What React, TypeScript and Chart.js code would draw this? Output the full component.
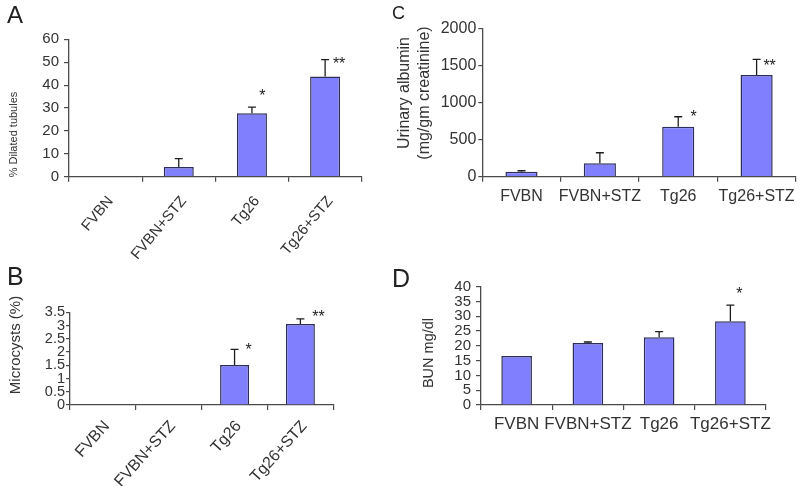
import React, { useEffect, useRef } from "react";
import { Chart, registerables } from "chart.js";

Chart.register(...registerables);

const FONT = "'Liberation Sans', Arial, Helvetica, sans-serif";
const AXIS = "#4a4a4a";
const TXT = "#333333";
const BAR_FILL = "#8080ff";
const BAR_EDGE = "#2e2e5c";

const categories = ["FVBN", "FVBN+STZ", "Tg26", "Tg26+STZ"];

// A: % dilated tubules
const dilatedTubules = [0, 4.2, 27.7, 43.8];
const dilatedTubulesErr = [0, 3.7, 2.7, 7.3];
const dilatedTubulesSig = ["", "", "*", "**"];

// B: microcysts (%)
const microcysts = [0, 0, 1.51, 3.06];
const microcystsErr = [0, 0, 0.59, 0.19];
const microcystsSig = ["", "", "*", "**"];

// C: urinary albumin (mg/gm creatinine)
const albumin = [67, 180, 674, 1370];
const albuminErr = [13, 143, 134, 212];
const albuminSig = ["", "", "*", "**"];

// D: BUN mg/dl
const bun = [16.6, 21.0, 22.9, 28.3];
const bunErr = [0, 0.3, 1.9, 5.5];
const bunSig = ["", "", "", "*"];

type Panel = {
  left: number; top: number; width: number; height: number;
  yWidth: number; padTop: number; padRight: number; xHeight: number;
  values: number[]; errors: number[]; sig: string[];
  starDx: number[]; starDy: number[]; starFont: number;
  yMax: number; yStep: number; yFont: number; yPad: number; tickLen: number;
  xFont: number; xRotation: number; xPad: number; xLabelOffset: number;
  titleLines: string[]; titleFont: number; titleX: number[]; titleY: number;
  letter: string; letterX: number; letterY: number; letterFont: number;
  barPct: number;
};

const panels: Panel[] = [
  {
    left: 0, top: 0, width: 390, height: 260,
    yWidth: 69, padTop: 39.3, padRight: 28.3, xHeight: 83.3,
    values: dilatedTubules, errors: dilatedTubulesErr, sig: dilatedTubulesSig,
    starDx: [0, 0, 10.5, 14], starDy: [0, 0, -15, 0], starFont: 16,
    yMax: 60, yStep: 10, yFont: 15, yPad: 5, tickLen: 5,
    xFont: 15, xRotation: 50, xPad: 11, xLabelOffset: 5,
    titleLines: ["% Dilated tubules"], titleFont: 11, titleX: [14], titleY: 134.5,
    letter: "A", letterX: 7, letterY: 22.7, letterFont: 24,
    barPct: 0.41,
  },
  {
    left: 0, top: 260, width: 390, height: 226,
    yWidth: 70, padTop: 52.3, padRight: 56.7, xHeight: 81,
    values: microcysts, errors: microcystsErr, sig: microcystsSig,
    starDx: [0, 0, 14, 18], starDy: [0, 0, -4, -6], starFont: 16,
    yMax: 3.5, yStep: 0.5, yFont: 14.5, yPad: 1, tickLen: 4,
    xFont: 16, xRotation: 48, xPad: 7, xLabelOffset: 4,
    titleLines: ["Microcysts (%)"], titleFont: 15, titleX: [16], titleY: 345,
    letter: "B", letterX: 7, letterY: 285.3, letterFont: 25,
    barPct: 0.44,
  },
  {
    left: 390, top: 0, width: 410, height: 260,
    yWidth: 92.3, padTop: 28.3, padRight: 3, xHeight: 83.3,
    values: albumin, errors: albuminErr, sig: albuminSig,
    starDx: [0, 0, 15.5, 13], starDy: [0, 0, -4, 2], starFont: 16,
    yMax: 2000, yStep: 500, yFont: 16, yPad: 2, tickLen: 4,
    xFont: 16, xRotation: 0, xPad: 5, xLabelOffset: 0,
    titleLines: ["Urinary albumin", "(mg/gm creatinine)"], titleFont: 16, titleX: [405, 424.5], titleY: 93,
    letter: "C", letterX: 392, letterY: 19.3, letterFont: 18,
    barPct: 0.41,
  },
  {
    left: 390, top: 260, width: 410, height: 226,
    yWidth: 91, padTop: 26.7, padRight: 34, xHeight: 81,
    values: bun, errors: bunErr, sig: bunSig,
    starDx: [0, 0, 0, 9], starDy: [0, 0, 0, -15], starFont: 16,
    yMax: 40, yStep: 5, yFont: 15, yPad: 5, tickLen: 5,
    xFont: 17, xRotation: 0, xPad: 4, xLabelOffset: 0,
    titleLines: ["BUN mg/dl"], titleFont: 14.5, titleX: [428.5], titleY: 353,
    letter: "D", letterX: 392, letterY: 287.3, letterFont: 25,
    barPct: 0.43,
  },
];

function makeOverlay(p: Panel) {
  return {
    id: "overlay" + p.letter,
    afterDatasetsDraw(chart: any) {
      const ctx = chart.ctx as CanvasRenderingContext2D;
      const meta = chart.getDatasetMeta(0);
      const ys = chart.scales.y;
      ctx.save();
      ctx.strokeStyle = "#1e1e1e";
      ctx.lineWidth = 1.3;
      p.values.forEach((v, i) => {
        const e = p.errors[i];
        const el = meta.data[i];
        if (!el) return;
        const x = el.x;
        const yv = ys.getPixelForValue(v);
        const ye = ys.getPixelForValue(v + e);
        if (e > 0) {
          ctx.beginPath();
          ctx.moveTo(x, yv);
          ctx.lineTo(x, ye);
          ctx.moveTo(x - 4, ye);
          ctx.lineTo(x + 4, ye);
          ctx.stroke();
        }
        const s = p.sig[i];
        if (s) {
          ctx.fillStyle = "#222";
          ctx.font = `${p.starFont}px ${FONT}`;
          ctx.textAlign = "center";
          ctx.textBaseline = "alphabetic";
          ctx.fillText(s, x + p.starDx[i], ye + p.starDy[i] + 0.58 * p.starFont);
        }
      });
      ctx.restore();
    },
    afterDraw(chart: any) {
      const ctx = chart.ctx as CanvasRenderingContext2D;
      ctx.save();
      ctx.fillStyle = TXT;
      ctx.font = `${p.titleFont}px ${FONT}`;
      ctx.textAlign = "center";
      ctx.textBaseline = "middle";
      p.titleLines.forEach((line, i) => {
        ctx.save();
        ctx.translate(p.titleX[i] - p.left, p.titleY - p.top);
        ctx.rotate(-Math.PI / 2);
        ctx.fillText(line, 0, 0);
        ctx.restore();
      });
      ctx.fillStyle = "#222";
      ctx.font = `${p.letterFont}px ${FONT}`;
      ctx.textAlign = "left";
      ctx.textBaseline = "alphabetic";
      ctx.fillText(p.letter, p.letterX - p.left, p.letterY - p.top);
      ctx.restore();
    },
  };
}

function PanelChart({ p }: { p: Panel }) {
  const ref = useRef<HTMLCanvasElement>(null);
  useEffect(() => {
    if (!ref.current) return;
    const chart = new Chart(ref.current, {
      type: "bar",
      data: {
        labels: categories,
        datasets: [
          {
            data: p.values,
            backgroundColor: BAR_FILL,
            borderColor: BAR_EDGE,
            borderWidth: 1.5,
            barPercentage: p.barPct,
            categoryPercentage: 1,
          },
        ],
      },
      options: {
        responsive: false,
        animation: false,
        devicePixelRatio: 1,
        events: [],
        layout: { padding: { left: 0, top: p.padTop, right: p.padRight, bottom: 0 } },
        plugins: {
          legend: { display: false },
          tooltip: { enabled: false },
          title: { display: false },
        },
        scales: {
          x: {
            type: "category",
            offset: true,
            grid: {
              display: true,
              offset: true,
              drawOnChartArea: false,
              drawTicks: true,
              tickLength: 5,
              color: AXIS,
              lineWidth: 1.2,
            },
            border: { display: true, color: AXIS, width: 1.3 },
            ticks: {
              color: TXT,
              font: { family: FONT, size: p.xFont },
              padding: p.xPad,
              labelOffset: p.xLabelOffset,
              autoSkip: false,
              minRotation: p.xRotation,
              maxRotation: p.xRotation,
            },
            afterFit: (s: any) => {
              s.height = p.xHeight;
            },
          },
          y: {
            min: 0,
            max: p.yMax,
            grid: {
              display: true,
              drawOnChartArea: false,
              drawTicks: true,
              tickLength: p.tickLen,
              color: AXIS,
              lineWidth: 1.2,
            },
            border: { display: true, color: AXIS, width: 1.3 },
            ticks: {
              stepSize: p.yStep,
              autoSkip: false,
              color: TXT,
              font: { family: FONT, size: p.yFont },
              padding: p.yPad,
              callback: (v: any) => String(Math.round(Number(v) * 10) / 10),
            },
            afterFit: (s: any) => {
              s.width = p.yWidth;
            },
          },
        },
      } as any,
      plugins: [makeOverlay(p)],
    });
    return () => chart.destroy();
  }, []);
  return (
    <canvas
      ref={ref}
      width={p.width}
      height={p.height}
      style={{ position: "absolute", left: p.left, top: p.top, width: p.width, height: p.height }}
    />
  );
}

export default function App() {
  return (
    <div
      style={{
        position: "absolute",
        left: 0,
        top: 0,
        width: 800,
        height: 486,
        background: "#ffffff",
        overflow: "hidden",
      }}
    >
      {panels.map((p) => (
        <PanelChart key={p.letter} p={p} />
      ))}
    </div>
  );
}
